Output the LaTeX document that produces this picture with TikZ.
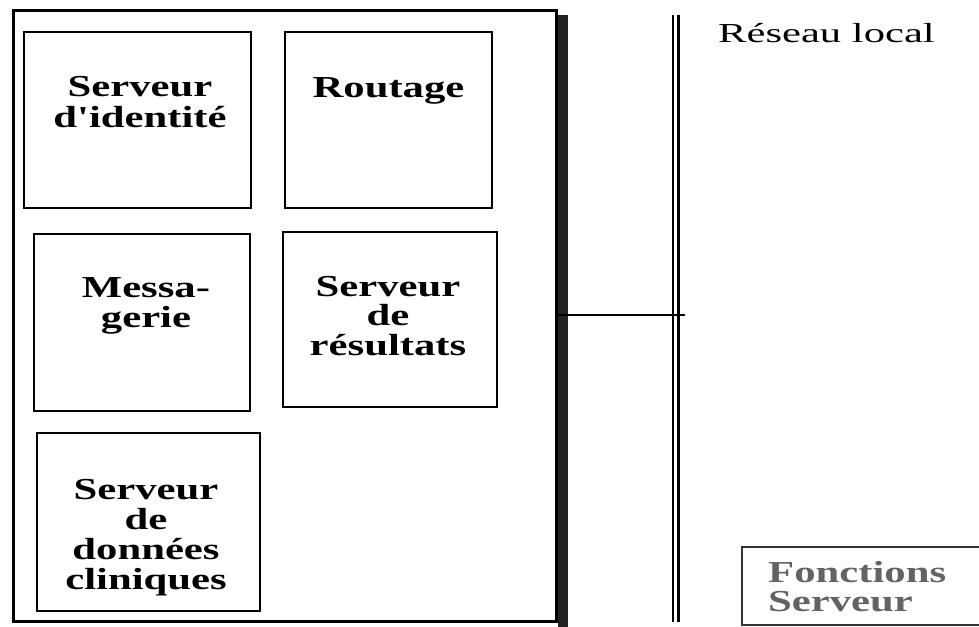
\documentclass[tikz,border=0pt]{standalone}
\usepackage{fontspec}
\setmainfont{Liberation Serif}
\newfontfamily\boxfont[FakeStretch=1.4]{Liberation Serif Bold}
\newfontfamily\netfont[FakeStretch=1.55]{Liberation Serif}
\definecolor{shadowgrey}{HTML}{222222}
\definecolor{legendgrey}{HTML}{636363}
\tikzset{
  fnbox/.style={draw=black, line width=1.2pt, inner sep=0pt},
  fnlabel/.style={inner sep=0pt, align=center, font=\boxfont\fontsize{30.5}{30}\selectfont},
  busline/.style={draw=black, line width=2pt},
}
\begin{document}
\begin{tikzpicture}[x=1pt,y=-1pt]
\useasboundingbox (0,0) rectangle (979,626);
\clip (0,0) rectangle (979,626);
% shadow of the server frame
\fill[shadowgrey] (557.5,15) rectangle (568,640);
% server frame
\node[draw=black, fill=white, line width=3pt, inner sep=0pt,
      minimum width=542.5pt, minimum height=610.5pt] (server) at (284.75,315.75) {};
% function boxes
\node[fnbox, minimum width=227pt, minimum height=176pt] (b1) at (137.5,120) {};
\node[fnbox, minimum width=207pt, minimum height=176pt] (b2) at (388.5,120) {};
\node[fnbox, minimum width=216pt, minimum height=177pt] (b3) at (142,322.5) {};
\node[fnbox, minimum width=214pt, minimum height=175pt] (b4) at (390,319.5) {};
\node[fnbox, minimum width=223pt, minimum height=178pt] (b5) at (148.5,522) {};
\node[fnlabel] (t1) at (140,102) {Serveur\\[1pt]d'identit\'e};
\node[fnlabel, anchor=base] (t2) at (388.5,97) {Routage};
\node[fnlabel] (t3) at (146,306) {Messa-\\gerie};
\node[fnlabel] (t4) at (388,316) {Serveur\\[-1pt]de\\[0pt]r\'esultats};
\node[fnlabel] (t5) at (146,538) {Serveur\\de\\donn\'ees\\[0pt]cliniques};
% local network bus
\coordinate (busAtop) at (672.5,15);
\coordinate (busAbot) at (672.5,622);
\coordinate (busBtop) at (678.5,15);
\coordinate (busBbot) at (678.5,622);
\coordinate (busend) at (684.5,315);
\draw[busline] (busAtop) -- (busAbot);
\draw[busline, line width=2.8pt] (busBtop) -- (busBbot);
\draw[busline] (server.east |- busend) -- (busend);
\node[inner sep=0pt, anchor=base west, font=\netfont\fontsize{27.5}{27}\selectfont] (net) at (718,43) {R\'eseau local};
% legend
\node[draw=black!80, line width=1.3pt, inner sep=0pt, minimum width=260pt, minimum height=78pt] (legend) at (872,586) {};
\node[inner sep=0pt, anchor=west, align=left, text=legendgrey, font=\boxfont\fontsize{30.5}{29}\selectfont] (legtext) at (768,586.5) {Fonctions\\Serveur};
\end{tikzpicture}
\end{document}
